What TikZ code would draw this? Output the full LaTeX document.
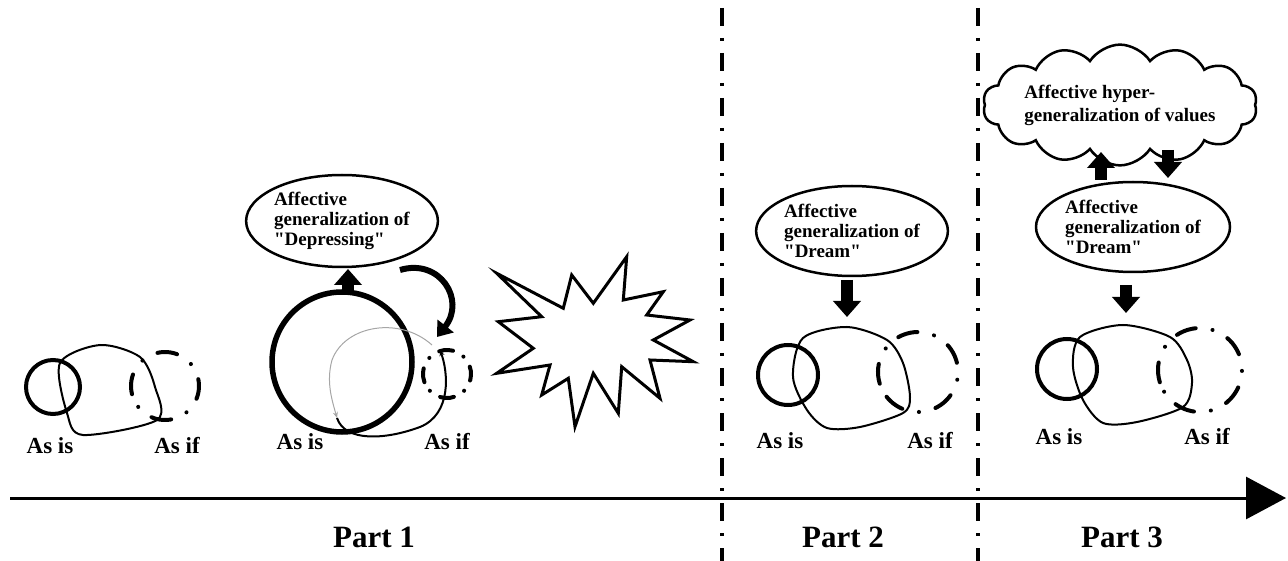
\documentclass[tikz,border=0pt]{standalone}
\usepackage{fontspec}
\setmainfont{Liberation Serif}
\usetikzlibrary{arrows.meta,shapes.geometric,shapes.symbols,calc}

\begin{document}
\begin{tikzpicture}[x=1pt,y=-1pt,
        lbl/.style={font=\fontsize{23}{25}\selectfont\bfseries},
        partlbl/.style={font=\fontsize{31}{33}\selectfont\bfseries},
        genell/.style={ellipse,draw,line width=2.5pt,inner sep=0pt,align=left,
            font=\fontsize{19}{20}\selectfont\bfseries},
        isring/.style={circle,draw,line width=4pt,inner sep=0pt},
        ifring/.style={line width=4pt,line cap=round,
            dash pattern=on 20pt off 17pt on 0.1pt off 17pt},
        blob/.style={line width=2pt},
        blockarrow/.style={line width=12pt,-{Triangle[length=16pt,width=27pt]}},
        sepline/.style={line width=3.5pt,dash pattern=on 18pt off 12pt on 3pt off 12pt},
        timeline/.style={line width=3pt,-{Triangle[length=40pt,width=42pt]}}
    ]
        \useasboundingbox (0,0) rectangle (1288,561);

        \coordinate (sepAtop) at (722,8);
        \coordinate (sepAbot) at (722,561);
        \coordinate (sepBtop) at (978,8);
        \coordinate (sepBbot) at (978,561);
        \draw[sepline] (sepAtop) -- (sepAbot);
        \draw[sepline] (sepBtop) -- (sepBbot);

        \coordinate (tStart) at (10,498);
        \coordinate (tEnd) at (1286,498);
        \draw[timeline] (tStart) -- (tEnd);

        \node[partlbl] (part1) at (374,537) {Part 1};
        \node[partlbl] (part2) at (843,537) {Part 2};
        \node[partlbl] (part3) at (1122,537) {Part 3};

        % part 1, before
        \node[isring, minimum size=54pt] (isA) at (53,387) {};
        \draw[blob] plot[smooth cycle] coordinates {(60,363) (100,345) (140,357) (155,387) (157,420) (83,435) (67,413)};
        \coordinate (ifA) at (165,386);
        \draw[ifring] ($(ifA)+(166:34)$) arc[start angle=166,end angle=526,radius=34];
        \node[lbl] (isAlbl) at (50,446) {As is};
        \node[lbl] (ifAlbl) at (177,446) {As if};

        % part 1, depressing
        \node[genell, minimum width=186pt, minimum height=92pt] (depB) at (342,221)
            {Affective\\generalization of\\\textquotedbl Depressing\textquotedbl};
        \node[isring, line width=5.5pt, minimum size=140pt] (isB) at (342,362) {};
        \coordinate (upBs) at (348,295);
        \coordinate (upBe) at (348,269);
        \draw[blockarrow] (upBs) -- (upBe);
        \coordinate (turnBs) at (400,270);
        \coordinate (turnBe) at (437,337);
        \draw[line width=6pt, -{Triangle[length=14pt,width=20pt]}]
            (turnBs) .. controls (440,258) and (466,300) .. (turnBe);
        \coordinate (ifB) at (447,374);
        \draw[ifring, dash pattern=on 14pt off 12pt on 0.1pt off 12pt]
            ($(ifB)+(160:24)$) arc[start angle=160,end angle=520,radius=24];
        \coordinate (ifBin) at (432,345);
        \coordinate (isBin) at (337,418);
        \coordinate (ifBret) at (440,350);
        \draw[gray!70, line width=1pt, -{Stealth[length=6pt,width=5pt]}]
            (ifBin) .. controls (400,316) and (345,325) .. (332,360)
            .. controls (326,382) and (332,400) .. (isBin);
        \draw[blob, -{Stealth[length=6pt,width=5pt]}]
            (isBin) .. controls (345,442) and (385,440) .. (420,427)
            .. controls (452,414) and (448,372) .. (ifBret);
        \node[lbl] (isBlbl) at (300,442) {As is};
        \node[lbl] (ifBlbl) at (447,442) {As if};

        \draw[line width=3pt, line join=miter]
            (496.7,273.3) -- (563.3,308.3) -- (571.7,275) -- (593.3,303.3)
            -- (626.7,256.7) -- (623.3,300) -- (663.3,291.7) -- (646.7,315)
            -- (690,320) -- (653.3,340) -- (693.3,361.7) -- (650,360)
            -- (660,398.3) -- (621.7,366.7) -- (618.3,413.3) -- (593.3,373.3)
            -- (575,426.7) -- (568.3,378.3) -- (541.7,395) -- (550,365)
            -- (496.7,373.3) -- (533.3,348.3) -- (498.3,321.7) -- (541.7,316.7)
            -- cycle;

        % part 2
        \node[genell, minimum width=186pt, minimum height=90pt] (dreamC) at (852,231)
            {Affective\\generalization of\\\textquotedbl Dream\textquotedbl};
        \coordinate (downCs) at (847,280);
        \coordinate (downCe) at (847,317);
        \draw[blockarrow] (downCs) -- (downCe);
        \node[isring, minimum size=60pt] (isC) at (788,375) {};
        \draw[blob] plot[smooth cycle] coordinates {(803,338) (847,327) (887,340) (903,363) (910,397) (903,413) (860,427) (827,428) (807,410) (793,377)};
        \coordinate (ifC) at (918,372);
        \draw[ifring] ($(ifC)+(163:40)$) arc[start angle=163,end angle=523,radius=40];
        \node[lbl] (isClbl) at (780,441) {As is};
        \node[lbl] (ifClbl) at (930,441) {As if};

        % part 3
        \node[cloud, draw, line width=2.5pt, cloud puffs=14, cloud puff arc=115, aspect=3,
            minimum width=248pt, minimum height=80pt, inner sep=0pt, align=left,
            font=\fontsize{19}{23}\selectfont\bfseries] (hyperD) at (1120,105)
            {Affective hyper-\\generalization of values};
        \coordinate (upDs) at (1101,180);
        \coordinate (upDe) at (1101,152);
        \draw[blockarrow] (upDs) -- (upDe);
        \coordinate (downDs) at (1168,150);
        \coordinate (downDe) at (1168,178);
        \draw[blockarrow] (downDs) -- (downDe);
        \node[genell, minimum width=194pt, minimum height=90pt] (dreamD) at (1133,227)
            {Affective\\generalization of\\\textquotedbl Dream\textquotedbl};
        \coordinate (down2Ds) at (1126,285);
        \coordinate (down2De) at (1126,313);
        \draw[blockarrow] (down2Ds) -- (down2De);
        \node[isring, minimum size=60pt] (isD) at (1067,369) {};
        \draw[blob] plot[smooth cycle] coordinates {(1080,337) (1123,325) (1170,337) (1187,360) (1192,383) (1183,407) (1137,422) (1103,423) (1083,400) (1073,367)};
        \coordinate (ifD) at (1200,370);
        \draw[ifring] ($(ifD)+(163:42)$) arc[start angle=163,end angle=523,radius=42];
        \node[lbl] (isDlbl) at (1059,437) {As is};
        \node[lbl] (ifDlbl) at (1207,437) {As if};
\end{tikzpicture}
\end{document}
